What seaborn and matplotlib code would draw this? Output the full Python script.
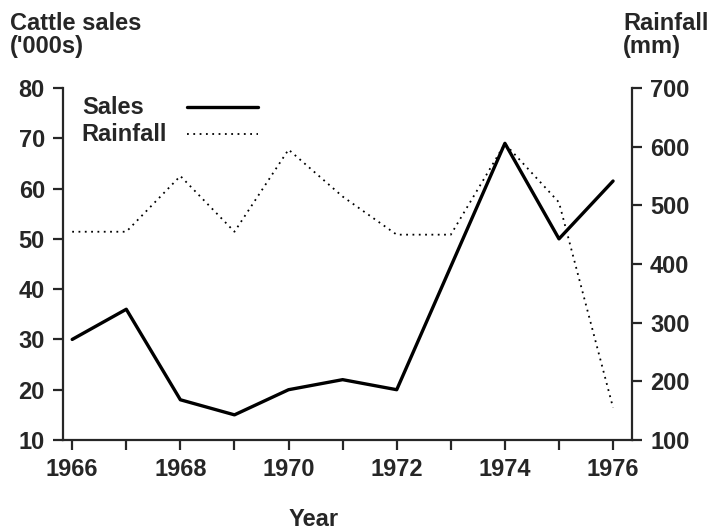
import pandas as pd
import seaborn as sns
import matplotlib.pyplot as plt
from matplotlib.lines import Line2D

years = [1966, 1967, 1968, 1969, 1970, 1971, 1972, 1973, 1974, 1975, 1976]
sales = [30, 36, 18, 15, 20, 22, 20, 44.5, 69, 50, 61.5]
rainfall = [455, 455, 550, 455, 595, 515, 450, 450, 605, 505, 155]
year_labels = ["1966", "", "1968", "", "1970", "", "1972", "", "1974", "", "1976"]
sales_ticks = [10, 20, 30, 40, 50, 60, 70, 80]
rain_ticks = [100, 200, 300, 400, 500, 600, 700]
legend_names = ["Sales", "Rainfall"]

df = pd.DataFrame({"year": years, "sales": sales, "rainfall": rainfall})

sns.set_style("ticks")
plt.rcParams["font.family"] = ["Liberation Sans", "DejaVu Sans"]
plt.rcParams["font.weight"] = "bold"
FS = 17
DOTS = (0, (1, 2.5))

fig = plt.figure(figsize=(7.1, 5.29), dpi=100)
ax = fig.add_axes([63/710, (529-440)/529, (632-63)/710, (440-88)/529])
ax2 = ax.twinx()

sns.lineplot(data=df, x="year", y="sales", ax=ax, color="black", lw=2.4)
sns.lineplot(data=df, x="year", y="rainfall", ax=ax2, color="black", lw=1.3,
             linestyle=DOTS)

ax.set_xlim(1965.83, 1976.35)
ax.set_ylim(10, 80)
ax2.set_ylim(100, 700)
ax.set_xticks(years)
ax.set_xticklabels(year_labels)
ax.set_yticks(sales_ticks)
ax2.set_yticks(rain_ticks)
ax.set_xlabel("")
ax.set_ylabel("")
ax2.set_ylabel("")

for a in (ax, ax2):
    a.spines["top"].set_visible(False)
    for s in a.spines.values():
        s.set_linewidth(1.6)
    a.tick_params(length=7, width=1.6, pad=6, labelsize=FS, direction="out")
ax.spines["right"].set_visible(False)
ax2.spines["left"].set_visible(False)
ax2.spines["bottom"].set_visible(False)

# legend: names left-aligned, sample lines to the right
styles = [dict(lw=2.4, linestyle="-"), dict(lw=1.3, linestyle=DOTS)]
for i, (name, st) in enumerate(zip(legend_names, styles)):
    yy = 0.946 - i * 0.077
    ax.text(0.033, yy, name, transform=ax.transAxes, ha="left", va="center",
            fontsize=FS, fontweight="bold")
    ax.add_line(Line2D([0.218, 0.343], [yy, yy], transform=ax.transAxes,
                       color="black", **st))

fig.text(10/710, 1 - 12/529, "Cattle sales\n('000s)", ha="left", va="top",
         fontsize=FS, fontweight="bold", linespacing=1.0)
fig.text(623/710, 1 - 12/529, "Rainfall\n(mm)", ha="left", va="top",
         fontsize=FS, fontweight="bold", linespacing=1.0)
fig.text(314/710, 1 - 519/529, "Year", ha="center", va="center",
         fontsize=FS, fontweight="bold")

fig.savefig("out.png", dpi=100)
